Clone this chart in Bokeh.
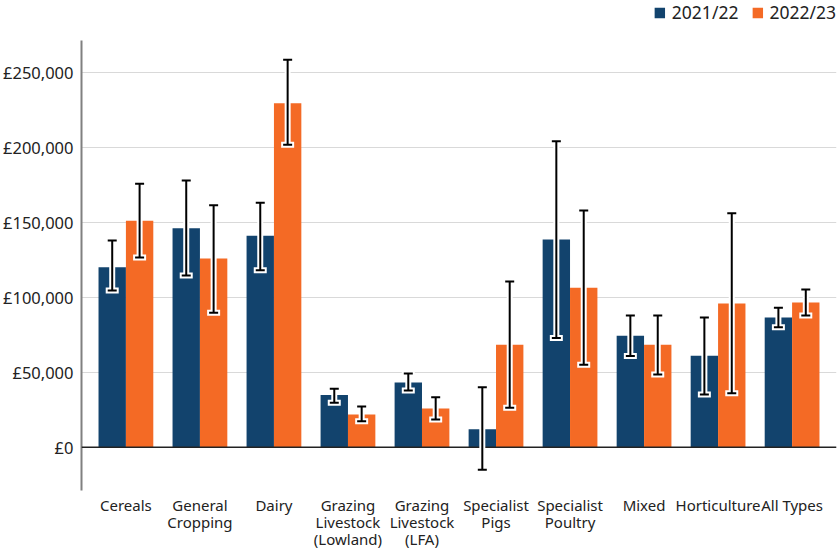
from bokeh.plotting import figure
from bokeh.models import (ColumnDataSource, FactorRange, Range1d, Whisker, TeeHead,
                          FixedTicker, CustomJSTickFormatter, Span, Legend, LegendItem)
from bokeh.transform import dodge
from bokeh.embed import file_html
from bokeh.resources import INLINE

categories = ["Cereals", "General\nCropping", "Dairy", "Grazing\nLivestock\n(Lowland)",
              "Grazing\nLivestock\n(LFA)", "Specialist\nPigs", "Specialist\nPoultry",
              "Mixed", "Horticulture", "All Types"]
series_names = ["2021/22", "2022/23"]

v2122 = [120000, 146000, 141000, 34700, 43100, 12000, 138500, 74200, 60900, 86500]
lo2122 = [104500, 114500, 118000, 29600, 37800, -15100, 72700, 60700, 35100, 80000]
hi2122 = [137800, 177800, 163000, 38900, 49100, 40000, 204000, 87800, 86500, 92900]

v2223 = [151000, 125800, 229300, 21800, 25800, 68300, 106300, 68300, 95800, 96500]
lo2223 = [126500, 89600, 201600, 17300, 18500, 26300, 54900, 48500, 36000, 87800]
hi2223 = [175600, 161300, 258200, 27100, 33300, 110500, 157800, 87800, 156000, 105100]

y_ticks = [0, 50000, 100000, 150000, 200000, 250000]
y_axis_bounds = (-29000, 271000)

BLUE = "#12436D"
ORANGE = "#F46A25"
FONT = "Noto Sans"

src = ColumnDataSource(dict(cat=categories, a=v2122, alo=lo2122, ahi=hi2122,
                            b=v2223, blo=lo2223, bhi=hi2223))

xr = FactorRange(factors=categories, range_padding=0.1, range_padding_units="absolute")
p = figure(x_range=xr, y_range=Range1d(-28900, 297770),
           frame_width=755, frame_height=490,
           min_border_left=72, min_border_right=2, min_border_top=0, min_border_bottom=54,
           output_backend="svg", toolbar_location=None)

w = 0.37
r1 = p.vbar(x=dodge("cat", -w / 2, range=p.x_range), top="a", width=w, source=src,
            fill_color=BLUE, line_color=None)
r2 = p.vbar(x=dodge("cat", w / 2, range=p.x_range), top="b", width=w, source=src,
            fill_color=ORANGE, line_color=None)

p.add_layout(Span(location=0, dimension="width", line_color="#222222", line_width=1.5))

for off, lo, hi in [(-w / 2, "alo", "ahi"), (w / 2, "blo", "bhi")]:
    halo = Whisker(base=dodge("cat", off, range=p.x_range), lower=lo, upper=hi, source=src,
                   line_color="white", line_width=6, level="annotation",
                   upper_head=TeeHead(size=13, line_color="white", line_width=6),
                   lower_head=TeeHead(size=13, line_color="white", line_width=6))
    core = Whisker(base=dodge("cat", off, range=p.x_range), lower=lo, upper=hi, source=src,
                   line_color="black", line_width=2, level="annotation",
                   upper_head=TeeHead(size=9, line_color="black", line_width=2),
                   lower_head=TeeHead(size=9, line_color="black", line_width=2))
    p.add_layout(halo)
    p.add_layout(core)

p.outline_line_color = None
p.xgrid.grid_line_color = None
p.ygrid.grid_line_color = "#d9d9d9"
p.ygrid.ticker = FixedTicker(ticks=y_ticks)

p.yaxis.ticker = FixedTicker(ticks=y_ticks)
p.yaxis.bounds = y_axis_bounds
p.yaxis.formatter = CustomJSTickFormatter(code="return '\u00a3' + tick.toLocaleString('en-GB');")
p.yaxis.axis_line_color = "#808080"
p.yaxis.axis_line_width = 2
p.yaxis.major_tick_line_color = None
p.yaxis.minor_tick_line_color = None
p.yaxis.major_label_standoff = 2
p.yaxis.major_label_text_font = FONT
p.yaxis.major_label_text_font_size = "16.5px"
p.yaxis.major_label_text_color = "#222222"

p.xaxis.axis_line_color = None
p.xaxis.major_tick_line_color = None
p.xaxis.minor_tick_line_color = None
p.xaxis.major_label_standoff = -2
p.xaxis.major_label_text_font = FONT
p.xaxis.major_label_text_font_size = "15px"
p.xaxis.major_label_text_color = "#222222"
p.xaxis.major_label_text_line_height = 0.85

legend = Legend(items=[LegendItem(label=series_names[0], renderers=[r1]),
                       LegendItem(label=series_names[1], renderers=[r2])],
                orientation="horizontal", location="top_right",
                glyph_width=13, glyph_height=13, label_height=13,
                label_standoff=6, spacing=12, padding=6, margin=0,
                label_text_font=FONT, label_text_font_size="17.5px",
                label_text_color="#222222",
                border_line_color=None, background_fill_alpha=0)
p.add_layout(legend)

open("out.html", "w").write(file_html(p, INLINE))
